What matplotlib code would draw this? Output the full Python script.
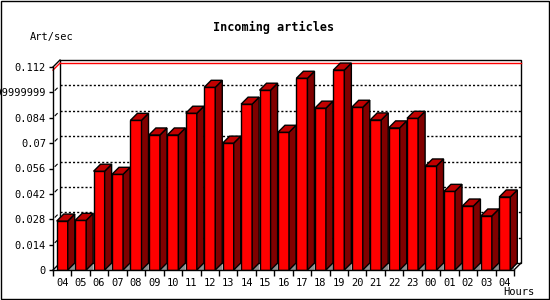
import matplotlib.pyplot as plt
import numpy as np
from matplotlib.patches import Polygon, Rectangle

# articles per second, one bar per hour
hours = ['04', '05', '06', '07', '08', '09', '10', '11', '12', '13', '14', '15',
         '16', '17', '18', '19', '20', '21', '22', '23', '00', '01', '02', '03', '04']
rates = [0.0270, 0.0274, 0.0545, 0.0528, 0.0826, 0.0745, 0.0745, 0.0865, 0.1008,
         0.0700, 0.0915, 0.0992, 0.0760, 0.1058, 0.0893, 0.1103, 0.0898, 0.0828,
         0.0784, 0.0837, 0.0574, 0.0434, 0.0353, 0.0298, 0.0403]
yticks = [0, 0.014, 0.028, 0.042, 0.056, 0.07, 0.084, 0.098, 0.112]
ytick_labels = ['0', '0.014', '0.028', '0.042', '0.056', '0.07', '0.084', '0.09999999', '0.112']

plt.rcParams['font.family'] = 'DejaVu Sans Mono'

fig = plt.figure(figsize=(5.5, 3), dpi=100)
ax = fig.add_axes([53 / 550, 30 / 300, 461 / 550, 203 / 300])
n = len(rates)
ymax = 0.112
ax.set_xlim(-0.5, n - 0.5)
ax.set_ylim(0, ymax)

# depth of the fake 3d box, 7 px in data units
dx = 7 / 461 * n
dy = 7 / 203 * ymax

# back wall
ax.add_patch(Rectangle((-0.5 + dx, dy), n, ymax, facecolor='white', edgecolor='black',
                       lw=1, clip_on=False, zorder=0))
for a, b in [((-0.5, ymax), (-0.5 + dx, ymax + dy)),
             ((-0.5, 0), (-0.5 + dx, dy)),
             ((n - 0.5, 0), (n - 0.5 + dx, dy))]:
    ax.plot([a[0], b[0]], [a[1], b[1]], color='black', lw=1, clip_on=False, zorder=1)

# dotted grid on back wall + short slashes on the left wall
for t in yticks[1:-1]:
    ax.plot([-0.5 + dx, n - 0.5 + dx], [t + dy, t + dy], color='black', lw=1,
            ls=(0, (1.5, 1.5)), clip_on=False, zorder=1)
    ax.plot([-0.5 + dx * 0.3, -0.5 + dx * 0.6], [t + dy * 0.3, t + dy * 0.6],
            color='black', lw=0.8, clip_on=False, zorder=1)

# max line in red
top = max(rates)
ax.plot([-0.5, -0.5 + dx], [top, top + dy], color='red', lw=1, clip_on=False, zorder=1)
ax.plot([-0.5 + dx, n - 0.5 + dx], [top + dy, top + dy], color='red', lw=1,
        clip_on=False, zorder=1)

# bars: front via bar(), side and top faces as polygons
w = 0.6
x = np.arange(n)
ax.bar(x, rates, width=w, color='#ff0000', edgecolor='black', lw=1, zorder=3)
for xi, v in zip(x, rates):
    x0, x1 = xi - w / 2, xi + w / 2
    ax.add_patch(Polygon([(x1, 0), (x1 + dx, dy), (x1 + dx, 0)], closed=True,
                         facecolor='#909090', edgecolor='none', zorder=2))
    ax.add_patch(Polygon([(x1, 0), (x1, v), (x1 + dx, v + dy), (x1 + dx, dy)], closed=True,
                         facecolor='#800000', edgecolor='black', lw=1, zorder=3, clip_on=False))
    ax.add_patch(Polygon([(x0, v), (x1, v), (x1 + dx, v + dy), (x0 + dx, v + dy)], closed=True,
                         facecolor='#c00000', edgecolor='black', lw=1, zorder=3, clip_on=False))

for s in ['top', 'right']:
    ax.spines[s].set_visible(False)
for s in ['left', 'bottom']:
    ax.spines[s].set_linewidth(1)
    ax.spines[s].set_zorder(4)

ax.set_yticks(yticks)
ax.set_yticklabels(ytick_labels)
ax.tick_params(axis='y', length=3, width=1, pad=2, labelsize=7.5)
ax.set_xticks(np.arange(n + 1) - 0.5)
ax.set_xticklabels([])
ax.set_xticks(x, minor=True)
ax.set_xticklabels(hours, minor=True)
ax.tick_params(axis='x', which='major', length=4, width=1)
ax.tick_params(axis='x', which='minor', length=0, pad=6, labelsize=7.5)

fig.text(274 / 550, 1 - 27 / 300, 'Incoming articles', ha='center', va='center',
         fontsize=8.5, fontweight='bold')
fig.text(30 / 550, 1 - 37 / 300, 'Art/sec', ha='left', va='center', fontsize=7.5)
fig.text(534 / 550, 1 - 292 / 300, 'Hours', ha='right', va='center', fontsize=7.5)

fig.patches.append(Rectangle((0.5 / 550, 1.5 / 300), 548 / 550, 298 / 300, transform=fig.transFigure,
                             fill=False, edgecolor='black', lw=1))

fig.savefig('out.png', dpi=100)
